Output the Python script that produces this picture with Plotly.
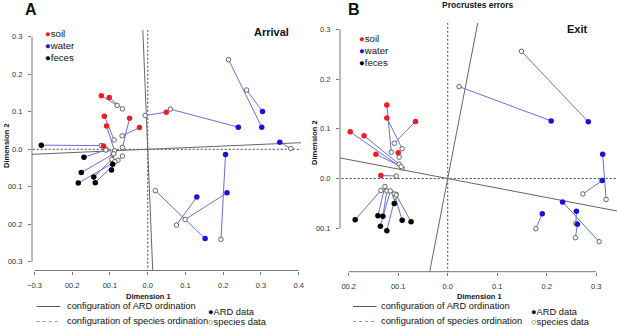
import plotly.graph_objects as go

# ---------------- data ----------------
# Panel A (Arrival): ARD data (filled) and species data (open)
A_soil_x = [-0.123, -0.102, -0.115, -0.109, -0.048, -0.022, 0.049, -0.117]
A_soil_y = [0.143, 0.138, 0.088, 0.062, 0.083, 0.058, 0.099, 0.009]
A_soil_sp_x = [-0.081, -0.067, -0.089, -0.088, -0.067, -0.068, -0.007, -0.111]
A_soil_sp_y = [0.117, 0.108, 0.025, -0.004, 0.005, 0.036, 0.090, 0.000]

A_water_x = [0.302, 0.304, 0.240, 0.350, 0.152, 0.130, 0.210, 0.206]
A_water_y = [0.059, 0.101, 0.059, 0.019, -0.238, -0.127, -0.116, -0.014]
A_water_sp_x = [0.214, 0.262, 0.060, 0.379, 0.020, 0.076, 0.099, 0.194]
A_water_sp_y = [0.239, 0.158, 0.107, 0.002, -0.110, -0.202, -0.187, -0.240]

A_feces_x = [-0.282, -0.169, -0.176, -0.143, -0.184, -0.139, -0.096, -0.093]
A_feces_y = [0.011, -0.021, -0.062, -0.074, -0.090, -0.089, -0.055, -0.040]
A_feces_sp_x = [-0.123, -0.111, -0.092, -0.095, -0.079, -0.067, -0.087, -0.090]
A_feces_sp_y = [0.010, -0.002, -0.013, -0.027, -0.029, -0.018, -0.033, -0.012]

# Panel B (Exit)
B_soil_x = [-0.123, -0.123, -0.065, -0.197, -0.169, -0.145, -0.100, -0.135]
B_soil_y = [0.148, 0.122, 0.115, 0.094, 0.086, 0.049, 0.052, 0.006]
B_soil_sp_x = [-0.114, -0.092, -0.108, -0.092, -0.098, -0.094, -0.098, -0.104]
B_soil_sp_y = [0.053, 0.060, 0.071, 0.021, 0.029, 0.024, 0.043, 0.005]

B_water_x = [0.284, 0.209, 0.313, 0.312, 0.232, 0.260, 0.262, 0.191]
B_water_y = [0.114, 0.116, 0.049, -0.004, -0.047, -0.066, -0.092, -0.071]
B_water_sp_x = [0.149, 0.023, 0.320, 0.273, 0.306, 0.259, 0.258, 0.178]
B_water_sp_y = [0.256, 0.185, -0.042, -0.031, -0.127, -0.090, -0.119, -0.101]

B_feces_x = [-0.187, -0.141, -0.131, -0.136, -0.123, -0.108, -0.092, -0.074]
B_feces_y = [-0.083, -0.075, -0.076, -0.096, -0.105, -0.050, -0.084, -0.087]
B_feces_sp_x = [-0.135, -0.127, -0.123, -0.116, -0.106, -0.104, -0.108, -0.104]
B_feces_sp_y = [-0.024, -0.016, -0.025, -0.025, -0.037, -0.032, -0.031, -0.033]

# ARD ordination axes (direction vectors, rotated relative to species axes)
A_ard_axis1 = [1.0, 0.0435]
A_ard_axis2 = [-0.041, 1.0]
B_ard_axis1 = [1.0, -0.191]
B_ard_axis2 = [0.194, 1.0]

# Tick labels
A_xticks = [-0.3, -0.2, -0.1, 0.0, 0.1, 0.2, 0.3, 0.4]
A_xticktext = ["\u22120.3", "00.2", "00.1", "0.0", "0.1", "0.2", "0.3", "0.4"]
A_yticks = [-0.3, -0.2, -0.1, 0.0, 0.1, 0.2, 0.3]
A_yticktext = ["00.3", "00.2", "00.1", "0.0", "0.1", "0.2", "0.3"]
B_xticks = [-0.2, -0.1, 0.0, 0.1, 0.2, 0.3]
B_xticktext = ["00.2", "00.1", "0.0", "0.1", "0.2", "0.3"]
B_yticks = [-0.1, 0.0, 0.1, 0.2, 0.3]
B_yticktext = ["00.1", "0.0", "0.1", "0.2", "0.3"]

groups = ["soil", "water", "feces"]
group_colors = {"soil": "#ee1c25", "water": "#1414dc", "feces": "#000000"}

# ---------------- styling ----------------
W, H = 617, 327
FONT = "Liberation Sans, Arial, sans-serif"
SEG_COLOR = "#6670d8"
AXIS_GRAY = "#777777"
REF_GRAY = "#666666"


def px_x(p):
    return p / W


def px_y(p):
    return 1 - p / H


panels = {
    "A": dict(xa="x", ya="y",
              dom_x=[px_x(32), px_x(301)], dom_y=[px_y(270.5), px_y(30)],
              rx=[-0.3066, 0.406], ry=[-0.323, 0.318],
              data={"soil": (A_soil_x, A_soil_y, A_soil_sp_x, A_soil_sp_y),
                    "water": (A_water_x, A_water_y, A_water_sp_x, A_water_sp_y),
                    "feces": (A_feces_x, A_feces_y, A_feces_sp_x, A_feces_sp_y)},
              ax1=A_ard_axis1, ax2=A_ard_axis2,
              xt=(A_xticks, A_xticktext), yt=(A_yticks, A_yticktext)),
    "B": dict(xa="x2", ya="y2",
              dom_x=[px_x(340), 1.0], dom_y=[px_y(271.7), px_y(23)],
              rx=[-0.2176, 0.342], ry=[-0.1874, 0.3129],
              data={"soil": (B_soil_x, B_soil_y, B_soil_sp_x, B_soil_sp_y),
                    "water": (B_water_x, B_water_y, B_water_sp_x, B_water_sp_y),
                    "feces": (B_feces_x, B_feces_y, B_feces_sp_x, B_feces_sp_y)},
              ax1=B_ard_axis1, ax2=B_ard_axis2,
              xt=(B_xticks, B_xticktext), yt=(B_yticks, B_yticktext)),
}

fig = go.Figure()
shapes = []
annotations = []

for name, p in panels.items():
    xa, ya = p["xa"], p["ya"]
    # species ordination axes (dashed) and ARD ordination axes (solid)
    fig.add_trace(go.Scatter(x=[-2, 2], y=[0, 0], mode="lines", xaxis=xa, yaxis=ya,
                             line=dict(color="#444444", width=1, dash="2px,2px"),
                             hoverinfo="skip", showlegend=False))
    fig.add_trace(go.Scatter(x=[0, 0], y=[-2, 2], mode="lines", xaxis=xa, yaxis=ya,
                             line=dict(color="#444444", width=1, dash="2px,2px"),
                             hoverinfo="skip", showlegend=False))
    for ax in (p["ax1"], p["ax2"]):
        fig.add_trace(go.Scatter(x=[-2 * ax[0], 2 * ax[0]], y=[-2 * ax[1], 2 * ax[1]],
                                 mode="lines", xaxis=xa, yaxis=ya,
                                 line=dict(color=REF_GRAY, width=1),
                                 hoverinfo="skip", showlegend=False))
    # Procrustes error segments
    for g in groups:
        ax_, ay_, sx_, sy_ = p["data"][g]
        sx, sy = [], []
        for a, b, c, d in zip(ax_, ay_, sx_, sy_):
            sx += [a, c, None]
            sy += [b, d, None]
        fig.add_trace(go.Scatter(x=sx, y=sy, mode="lines", xaxis=xa, yaxis=ya,
                                 line=dict(color=SEG_COLOR, width=1),
                                 hoverinfo="skip", showlegend=False))
    # species data (open) and ARD data (filled)
    for g in groups:
        ax_, ay_, sx_, sy_ = p["data"][g]
        fig.add_trace(go.Scatter(x=sx_, y=sy_, mode="markers", xaxis=xa, yaxis=ya,
                                 marker=dict(size=4.5, color="white",
                                             line=dict(color="#555555", width=0.9)),
                                 showlegend=False))
    for g in groups:
        ax_, ay_, sx_, sy_ = p["data"][g]
        fig.add_trace(go.Scatter(x=ax_, y=ay_, mode="markers", xaxis=xa, yaxis=ya,
                                 marker=dict(size=5.5, color=group_colors[g],
                                             line=dict(width=0)),
                                 name=g, showlegend=False))

    # R-style detached axis lines
    xt, yt = p["xt"], p["yt"]
    shapes.append(dict(type="line", xref=xa, yref=ya + " domain", x0=min(xt[0]), x1=max(xt[0]),
                       y0=0, y1=0, line=dict(color=AXIS_GRAY, width=1)))
    shapes.append(dict(type="line", xref=xa + " domain", yref=ya, x0=0, x1=0,
                       y0=min(yt[0]), y1=max(yt[0]), line=dict(color=AXIS_GRAY, width=1)))


def axis_common():
    return dict(showgrid=False, zeroline=False, showline=False, ticks="outside",
                ticklen=3, tickwidth=1, tickcolor=AXIS_GRAY, automargin=False,
                tickfont=dict(family=FONT, size=7.5, color="#333333"))


layout = dict(width=W, height=H, autosize=False, margin=dict(l=0, r=0, t=0, b=0, pad=0),
              plot_bgcolor="white", paper_bgcolor="white", showlegend=False)
for name, p in panels.items():
    xk = "xaxis" if p["xa"] == "x" else "xaxis2"
    yk = "yaxis" if p["ya"] == "y" else "yaxis2"
    xd = axis_common()
    xd.update(domain=p["dom_x"], range=p["rx"], anchor=p["ya"],
              tickvals=p["xt"][0], ticktext=p["xt"][1], ticklabelstandoff=4)
    yd = axis_common()
    yd.update(domain=p["dom_y"], range=p["ry"], anchor=p["xa"],
              tickvals=p["yt"][0], ticktext=p["yt"][1], ticklabelstandoff=4)
    layout[xk] = xd
    layout[yk] = yd


def ann(x, y, text, size, bold=False, xanchor="center", color="#111111", angle=0):
    t = f"<b>{text}</b>" if bold else text
    annotations.append(dict(x=px_x(x), y=px_y(y), xref="paper", yref="paper", text=t,
                            showarrow=False, xanchor=xanchor, yanchor="middle",
                            textangle=angle,
                            font=dict(family=FONT, size=size, color=color)))


# panel letters and titles
ann(31, 10, "A", 16, bold=True)
ann(353.5, 10, "B", 16, bold=True)
ann(478, 5, "Procrustes errors", 8.5, bold=True)
ann(271, 32, "Arrival", 11, bold=True)
ann(577, 28.5, "Exit", 11, bold=True)

# axis titles
ann(148, 296, "Dimension 1", 7.5, bold=True)
ann(479, 296, "Dimension 1", 7.5, bold=True)
ann(6, 146, "Dimension 2", 7.5, bold=True, angle=-90)
ann(314, 143, "Dimension 2", 7.5, bold=True, angle=-90)

# in-panel group legends
for (lx, ly0) in [(43, 33.5), (357, 38)]:
    for i, g in enumerate(groups):
        ann(lx, ly0 + i * 12, f'<span style="color:{group_colors[g]}">\u25cf</span>{g}',
            9.6, xanchor="left")

# bottom legends
for (lx0, tx, dx) in [(36.7, 65, 206), (353, 379, 529)]:
    shapes.append(dict(type="line", xref="paper", yref="paper", x0=px_x(lx0), x1=px_x(lx0 + 23.5),
                       y0=px_y(306.5), y1=px_y(306.5), line=dict(color="#555555", width=1)))
    shapes.append(dict(type="line", xref="paper", yref="paper", x0=px_x(lx0), x1=px_x(lx0 + 24),
                       y0=px_y(321.5), y1=px_y(321.5),
                       line=dict(color="#999999", width=1, dash="3px,3px")))
    ann(tx, 306, "configuration of ARD ordination", 9.3, xanchor="left")
    ann(tx, 321, "configuration of species ordination", 9.3, xanchor="left")
    ann(dx, 311.5, "\u25cfARD data", 9.3, xanchor="left")
    ann(dx, 321.5, "\u25cbspecies data", 9.3, xanchor="left")

layout["shapes"] = shapes
layout["annotations"] = annotations
fig.update_layout(**layout)
fig.write_html("out.html", config={"displayModeBar": False},
               post_script="document.body.style.margin='0px';document.body.style.overflow='hidden';")
